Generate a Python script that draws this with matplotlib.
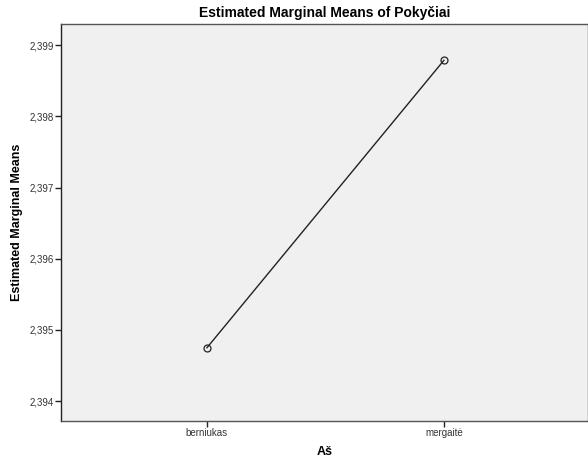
import matplotlib
matplotlib.use("Agg")
import matplotlib.pyplot as plt
from matplotlib.ticker import FuncFormatter

categories = ["berniukas", "mergaitė"]
means = [2.39475, 2.39879]
yticks = [2.394, 2.395, 2.396, 2.397, 2.398, 2.399]

plt.rcParams['font.family'] = ['Liberation Sans', 'DejaVu Sans']

fig = plt.figure(figsize=(5.88, 4.72), dpi=100)
ax = fig.add_axes([61/588, 51/472, 527/588, 397/472])
ax.set_facecolor('#F0F0F0')

x = list(range(len(categories)))
ax.plot(x, means, color='#222222', lw=1.0, marker='o', markersize=5,
        markerfacecolor='none', markeredgecolor='#222222', markeredgewidth=0.9)

ax.set_xlim(-0.616, 1.608)
ax.set_ylim(2.39372, 2.39930)
ax.set_xticks(x)
ax.set_xticklabels(categories)
ax.set_yticks(yticks)
ax.yaxis.set_major_formatter(FuncFormatter(lambda v, p: f"{v:.3f}".replace('.', ',')))
ax.tick_params(axis='both', labelsize=7, length=4, width=1, color='#222222', labelcolor='#333333')
ax.tick_params(axis='y', pad=1)
ax.tick_params(axis='x', pad=1)

for s in ax.spines.values():
    s.set_color('#555555')
    s.set_linewidth(1)
ax.spines['left'].set_color('#222222')

ax.set_xlabel("Aš", fontsize=9, fontweight='bold', labelpad=6)
ax.set_ylabel("Estimated Marginal Means", fontsize=9, fontweight='bold', labelpad=5)
ax.set_title("Estimated Marginal Means of Pokyčiai", fontsize=10, fontweight='bold', pad=5)

fig.savefig("out.png", dpi=100)
